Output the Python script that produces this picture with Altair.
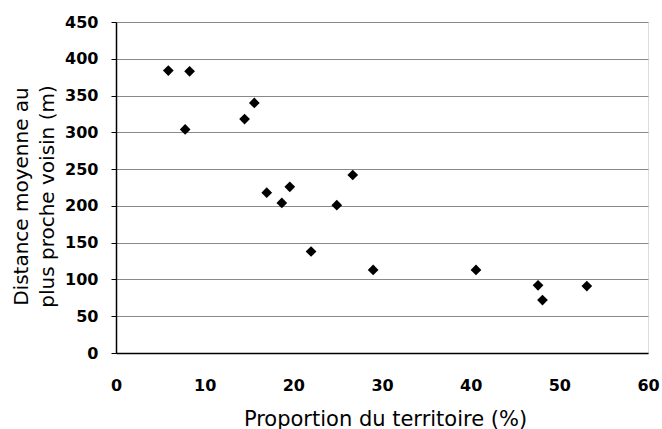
import altair as alt
import pandas as pd

proportion = [5.9, 8.3, 7.8, 14.5, 15.6, 17.0, 18.7, 19.6, 24.9, 26.7, 22.0, 29.0, 40.6, 47.6, 48.1, 53.1]
distance = [384, 383, 304, 318, 340, 218, 204, 226, 201, 242, 138, 113, 113, 92, 72, 91]

df = pd.DataFrame({"x": proportion, "y": distance})

FONT = "DejaVu Sans"

chart = alt.Chart(df).mark_point(
    shape="diamond", filled=True, color="black", size=115, opacity=1
).encode(
    x=alt.X("x:Q",
            scale=alt.Scale(domain=[0, 60], nice=False, zero=True),
            axis=alt.Axis(values=[0, 10, 20, 30, 40, 50, 60], grid=False, ticks=False,
                          labelFlush=False,
                          labelPadding=24, labelFont=FONT, labelFontWeight="bold",
                          labelFontSize=16, labelColor="black", domainColor="black",
                          domainWidth=1.5,
                          title="Proportion du territoire (%)", titleFont=FONT,
                          titleFontWeight="normal", titleFontSize=21, titleColor="black",
                          titleBaseline="alphabetic", titleY=72, titleX=269)),
    y=alt.Y("y:Q",
            scale=alt.Scale(domain=[0, 450], nice=False),
            axis=alt.Axis(values=[0, 50, 100, 150, 200, 250, 300, 350, 400, 450],
                          grid=True, gridColor="#8a8a8a", gridWidth=1,
                          ticks=True, tickSize=5, tickColor="black",
                          labelFlush=False,
                          labelPadding=13, labelFont=FONT, labelFontWeight="bold",
                          labelFontSize=16, labelColor="black", domainColor="black",
                          domainWidth=1.5,
                          title=["Distance moyenne au", "plus proche voisin (m)"],
                          titleFont=FONT, titleFontWeight="normal", titleFontSize=20,
                          titleColor="black", titleLineHeight=26,
                          titleAngle=270, titleBaseline="alphabetic", titleAlign="center",
                          titleX=-89, titleY=174)),
).properties(
    width=532, height=331,
    padding={"left": 116, "top": 22, "right": 14, "bottom": 76},
    autosize=alt.AutoSizeParams(type="none"),
).configure_view(stroke="#bdbdbd", strokeWidth=1).configure(background="white")

chart.save("out.html", embed_options={"renderer": "svg", "actions": False})
